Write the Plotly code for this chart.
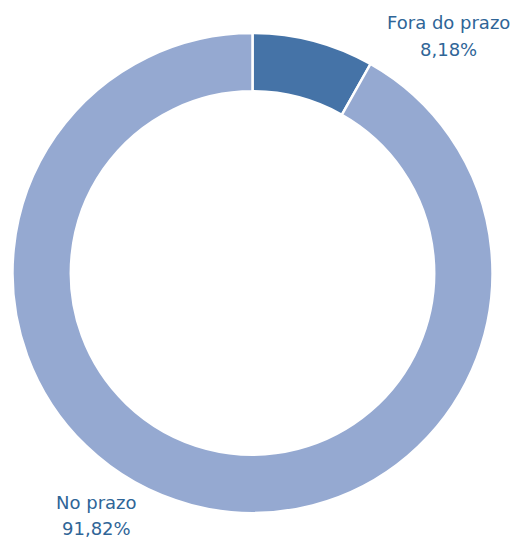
import plotly.graph_objects as go

labels = ["Fora do prazo", "No prazo"]
values = [8.18, 91.82]
colors = ["#4573A7", "#95A9D1"]

W, H = 520, 539
cx, cy, r = 252.5, 273, 240

fig = go.Figure(go.Pie(
    labels=labels, values=values, sort=False, direction="clockwise", rotation=0,
    hole=0.757, marker=dict(colors=colors, line=dict(color="white", width=2.5)),
    textinfo="none", hoverinfo="label+percent", showlegend=False,
    domain=dict(x=[(cx - r) / W, (cx + r) / W], y=[(H - cy - r) / H, (H - cy + r) / H]),
))

def fmt(v):
    return f"{v:.2f}".replace(".", ",") + "%"

# (center x, line1 y, line2 y) in pixels
pos = [(448, 23, 49), (96, 502, 528)]
font = dict(family="DejaVu Sans, Noto Sans, sans-serif", size=18, color="#2F6597")
for lab, v, (px, y1, y2) in zip(labels, values, pos):
    for txt, py in ((lab, y1), (fmt(v), y2)):
        fig.add_annotation(x=px / W, y=1 - py / H, xref="paper", yref="paper",
                           text=txt, showarrow=False, font=font,
                           xanchor="center", yanchor="middle")

fig.update_layout(width=W, height=H, margin=dict(l=0, r=0, t=0, b=0),
                  paper_bgcolor="white", plot_bgcolor="white")
fig.write_html("out.html", config={"displayModeBar": False},
               post_script="document.body.style.margin='0';document.body.style.overflow='hidden';")
